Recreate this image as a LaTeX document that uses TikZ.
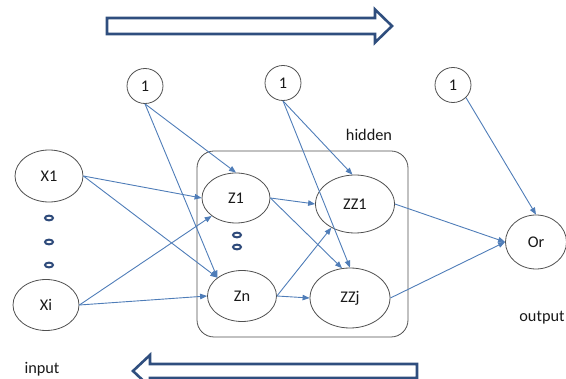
\documentclass[tikz,border=0pt]{standalone}
\usepackage{fontspec}
\setmainfont{Carlito}
\usetikzlibrary{shapes.geometric,arrows.meta}
\definecolor{linkblue}{HTML}{4F7DB8}
\definecolor{navy}{HTML}{2F4E7E}
\definecolor{dotblue}{HTML}{2E4A7A}
\definecolor{outl}{HTML}{505050}
\begin{document}
\begin{tikzpicture}[x=1pt,y=-1pt,
  every node/.style={font=\fontsize{16.3}{19}\selectfont, text=black!90},
  neuron/.style={ellipse, draw=outl, line width=0.8pt, inner sep=0pt},
  link/.style={draw=linkblue, line width=0.9pt, -{Triangle[length=7pt,width=5.5pt]}},
  bigarrow/.style={draw=navy, line width=2.6pt, fill=white, line join=miter},
  dot/.style={draw=dotblue, line width=2pt}]
\useasboundingbox (0,0) rectangle (566,379);
\clip (0,0) rectangle (566,379);

% big arrows
\draw[bigarrow] (107,18) -- (375,18) -- (375,9.5) -- (392,26) -- (375,42.5) -- (375,34) -- (107,34) -- cycle;
\draw[bigarrow] (417,364) -- (150,364) -- (150,355) -- (133,371) -- (150,387) -- (150,378) -- (417,378) -- cycle;

% hidden box
\node[draw=outl, line width=0.8pt, rounded corners=17pt, minimum width=211pt, minimum height=186pt, inner sep=0pt] (hbox) at (302.5,244) {};

% nodes
\node[neuron, minimum width=36pt, minimum height=35pt] (b1) at (145,86) {1};
\node[neuron, minimum width=36pt, minimum height=35pt] (b2) at (283,83) {1};
\node[neuron, minimum width=36pt, minimum height=35pt] (b3) at (453,85) {1};
\node[neuron, minimum width=68pt, minimum height=52pt] (X1) at (49,176) {X1};
\node[neuron, minimum width=66pt, minimum height=51pt] (Xi) at (46,305) {Xi};
\node[neuron, minimum width=68pt, minimum height=50pt] (Z1) at (236,198) {Z1};
\node[neuron, minimum width=69pt, minimum height=51pt] (Zn) at (242,296) {Zn};
\node[neuron, minimum width=79pt, minimum height=58pt] (ZZ1) at (355,204) {ZZ1};
\node[neuron, minimum width=80pt, minimum height=60pt] (ZZj) at (350,298) {ZZj};
\node[neuron, minimum width=61pt, minimum height=54pt] (Or) at (536,242) {Or};

% labels
\node (lhidden) at (369,135) {hidden};
\node (loutput) at (542,318) {output};
\node (linput) at (42,369) {input};

% dots
\draw[dot] (49,218) ellipse (4 and 2.4);
\draw[dot] (49,242) ellipse (4 and 2.4);
\draw[dot] (49,265) ellipse (4 and 2.4);
\draw[dot] (237,235) ellipse (4 and 2.4);
\draw[dot] (237,247) ellipse (4 and 2.4);

% connections
\draw[link] (b1.south) -- (Z1.north);
\draw[link] (b1.south) -- (Zn.north west);
\draw[link] (b2.south) -- (ZZ1.95);
\draw[link] (b2.south) -- (ZZj.north);
\draw[link] (b3.south east) -- (Or.north);
\draw[link] (X1.east) -- (Z1.west);
\draw[link] (X1.east) -- (Zn.north west);
\draw[link] (Xi.east) -- (Z1.south west);
\draw[link] (Xi.east) -- (Zn.west);
\draw[link] (Z1.east) -- (ZZ1.west);
\draw[link] (Z1.east) -- (ZZj.105);
\draw[link] (Zn.east) -- (ZZ1.225);
\draw[link] (Zn.east) -- (ZZj.west);
\draw[link] (ZZ1.east) -- (Or.west);
\draw[link] (ZZj.east) -- (Or.west);
\end{tikzpicture}
\end{document}
